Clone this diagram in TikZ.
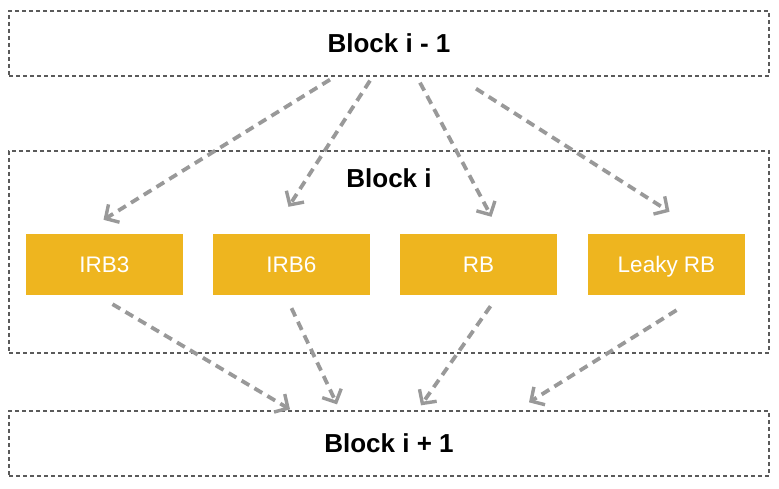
\documentclass[tikz,border=0pt]{standalone}
\usepackage{fontspec}
\setmainfont{Liberation Sans}
\usepackage{tikz}
\usetikzlibrary{arrows.meta, positioning}
\definecolor{Frame}{HTML}{5A5A5A}
\definecolor{Flow}{HTML}{999999}
\definecolor{Gold}{HTML}{EEB51F}

\begin{document}
\begin{tikzpicture}[
  x=1pt, y=1pt,
  blockbox/.style={draw=Frame, line width=1.3pt, dash pattern=on 4pt off 3pt, minimum width=760pt, minimum height=65pt, font=\fontsize{26}{30}\selectfont\bfseries},
  unitbox/.style={fill=Gold, minimum width=157pt, minimum height=61pt, text height=16pt, text depth=0pt, text=white, font=\fontsize{22.5}{26}\selectfont},
  flow/.style={draw=Flow, line width=3.8pt, dash pattern=on 9pt off 6pt, -{Straight Barb[length=10pt, width=21pt, line width=3.4pt]}}
]
\useasboundingbox (0,0) rectangle (779,488);

\node[blockbox] (prev) at (389,444.5) {Block i - 1};
\node[blockbox, minimum height=202pt] (cur) at (389,236) {};
\node[font=\fontsize{26}{30}\selectfont\bfseries] (curlabel) at (389,310) {Block i};
\node[blockbox] (next) at (389,44.5) {Block i + 1};

\node[unitbox] (irb3) at (104.5,223.5) {IRB3};
\node[unitbox] (irb6) at (291.5,223.5) {IRB6};
\node[unitbox] (rb) at (478.5,223.5) {RB};
\node[unitbox] (leaky) at (666.5,223.5) {Leaky RB};

\draw[flow] ([xshift=-59pt, yshift=-3pt]prev.south) -- ([xshift=-1pt, yshift=14pt]irb3.north);
\draw[flow] ([xshift=-19pt, yshift=-4pt]prev.south) -- ([xshift=-3pt, yshift=27pt]irb6.north);
\draw[flow] ([xshift=31pt, yshift=-6pt]prev.south) -- ([xshift=13pt, yshift=17pt]rb.north);
\draw[flow] ([xshift=87pt, yshift=-12pt]prev.south) -- ([xshift=3pt, yshift=22pt]leaky.north);

\draw[flow] ([xshift=8pt, yshift=-9pt]irb3.south) -- ([xshift=-99pt, yshift=1pt]next.north);
\draw[flow] ([yshift=-13pt]irb6.south) -- ([xshift=-52pt, yshift=6pt]next.north);
\draw[flow] ([xshift=12pt, yshift=-11pt]rb.south) -- ([xshift=32pt, yshift=5pt]next.north);
\draw[flow] ([xshift=10pt, yshift=-15pt]leaky.south) -- ([xshift=140pt, yshift=8pt]next.north);
\end{tikzpicture}
\end{document}
